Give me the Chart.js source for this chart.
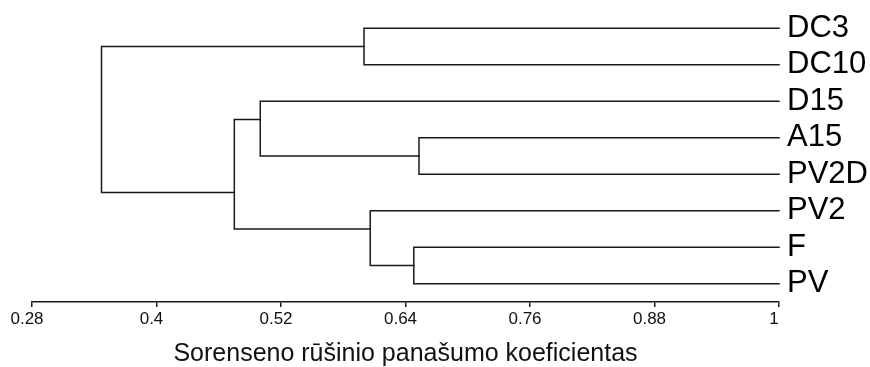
<!DOCTYPE html>
<html>
<head>
<meta charset="utf-8">
<script src="https://cdn.jsdelivr.net/npm/chart.js@4.4.1/dist/chart.umd.min.js"></script>
<style>
  html, body { margin: 0; padding: 0; background: #fff; }
  #wrap { width: 870px; height: 367px; position: relative; }
</style>
</head>
<body>
<div id="wrap"><canvas id="c"></canvas></div>
<script>
// Leaves of the dendrogram, top to bottom
const leaves = ['DC3', 'DC10', 'D15', 'A15', 'PV2D', 'PV2', 'F', 'PV'];
// Similarity at which each leaf sits
const leafSimilarity = 1;

// Cluster merges: [node name, child A, child B, similarity, row of the node's stem]
const mergeNames    = ['n1',  'n2',   'n3',  'n4',  'n5',  'n6',  'root'];
const mergeChildA   = ['DC3', 'A15',  'F',   'D15', 'PV2', 'n4',  'n1'];
const mergeChildB   = ['DC10','PV2D', 'PV',  'n2',  'n3',  'n5',  'n6'];
const mergeSim      = [0.600, 0.653,  0.648, 0.500, 0.606, 0.475, 0.347];
const mergeStemRow  = [0.5,   3.5,    6.5,   2.5,   5.5,   4.5,   null];

// Similarity axis ticks
const xTicks = [0.28, 0.4, 0.52, 0.64, 0.76, 0.88, 1];
const xTickLabels = ['0.28', '0.4', '0.52', '0.64', '0.76', '0.88', '1'];
const axisTitle = 'Sorenseno rūšinio panašumo koeficientas';

// Position (similarity, row) of every leaf and node
const nodePos = {};
leaves.forEach((name, i) => { nodePos[name] = { x: leafSimilarity, y: i }; });
mergeNames.forEach((name, i) => { nodePos[name] = { x: mergeSim[i], y: mergeStemRow[i] }; });

// One elbow per merge: child A -> merge height -> child B
const lineColor = '#1a1a1a';
const datasets = mergeNames.map((name, i) => {
  const a = nodePos[mergeChildA[i]];
  const b = nodePos[mergeChildB[i]];
  const s = mergeSim[i];
  return {
    type: 'line',
    data: [
      { x: a.x, y: a.y },
      { x: s, y: a.y },
      { x: s, y: b.y },
      { x: b.x, y: b.y }
    ],
    borderColor: lineColor,
    borderWidth: 1.5,
    pointRadius: 0,
    fill: false,
    tension: 0,
    clip: false,
    borderCapStyle: 'square',
    borderJoinStyle: 'miter'
  };
});

const font = "'Liberation Sans', Arial, sans-serif";

new Chart(document.getElementById('c'), {
  type: 'scatter',
  data: { datasets },
  options: {
    responsive: true,
    maintainAspectRatio: false,
    animation: false,
    layout: { padding: { left: 32, top: 10, right: 0, bottom: 0 } },
    plugins: { legend: { display: false }, tooltip: { enabled: false } },
    scales: {
      x: {
        type: 'linear',
        position: 'bottom',
        min: 0.28,
        max: 1,
        afterBuildTicks: (scale) => { scale.ticks = xTicks.map(v => ({ value: v })); },
        afterFit: (scale) => { scale.height = 65; },
        grid: {
          drawOnChartArea: false,
          drawTicks: true,
          tickLength: 5,
          color: lineColor,
          lineWidth: 1.5
        },
        border: { display: true, color: lineColor, width: 1.5 },
        ticks: {
          autoSkip: false,
          maxRotation: 0,
          padding: 2,
          labelOffset: -5,
          color: '#111',
          font: { family: font, size: 17 },
          callback: (v, i) => xTickLabels[i]
        },
        title: {
          display: true,
          text: axisTitle,
          color: '#111',
          font: { family: font, size: 25, lineHeight: 1.0 },
          padding: { top: 0, bottom: 0 }
        }
      },
      y: {
        type: 'linear',
        position: 'right',
        reverse: true,
        min: -0.5,
        max: 7.5,
        afterBuildTicks: (scale) => { scale.ticks = leaves.map((_, i) => ({ value: i })); },
        afterFit: (scale) => {
          scale.width = 91;
          // leaf labels sit inside the row band, so no extra vertical room is needed
          scale.paddingTop = 0;
          scale.paddingBottom = 0;
        },
        grid: { display: false, drawTicks: false },
        border: { display: false },
        ticks: {
          autoSkip: false,
          padding: 8,
          color: '#000',
          font: { family: font, size: 31 },
          callback: (v) => leaves[v]
        }
      }
    }
  }
});
</script>
</body>
</html>
